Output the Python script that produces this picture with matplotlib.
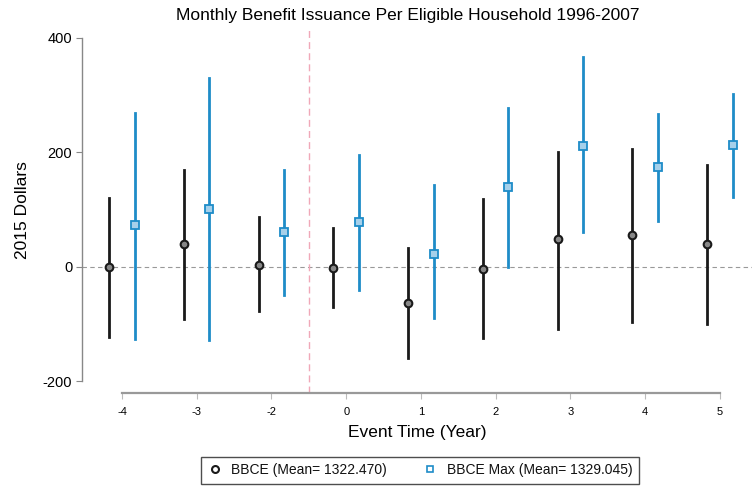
import matplotlib.pyplot as plt
from matplotlib.lines import Line2D

plt.rcParams['font.family'] = ['Liberation Sans', 'DejaVu Sans']

# event time (year -1 is the omitted reference period)
event_years = ['-4', '-3', '-2', '0', '1', '2', '3', '4', '5']

# BBCE coefficients and 95% CI bounds (2015 dollars)
bbce_coef = [0, 40, 3, -2, -64, -4, 48, 56, 40]
bbce_lo = [-122, -92, -77, -70, -160, -125, -108, -96, -100]
bbce_hi = [120, 169, 86, 68, 32, 118, 201, 206, 178]

# BBCE Max coefficients and 95% CI bounds
bmax_coef = [73, 101, 61, 78, 22, 139, 211, 175, 213]
bmax_lo = [-126, -128, -49, -41, -90, 0, 60, 80, 122]
bmax_hi = [268, 329, 169, 195, 143, 277, 366, 267, 302]

BLUE = '#1e8cc8'
pos = list(range(len(event_years)))
off = 0.17

fig = plt.figure(figsize=(7.56, 4.87), dpi=100)
ax = fig.add_axes([82 / 756, 94 / 487, 670 / 756, 365 / 487])

ax.axhline(0, color='#999999', lw=0.8, ls=(0, (4, 3)), zorder=1)
ax.axvline(2.5, color='#f0a8b8', lw=1.0, ls=(0, (5, 3)), zorder=1)

for i in pos:
    ax.plot([i - off, i - off], [bbce_lo[i], bbce_hi[i]], color='#1a1a1a', lw=2.0, zorder=2)
    ax.plot([i + off, i + off], [bmax_lo[i], bmax_hi[i]], color=BLUE, lw=2.0, zorder=2)

ax.plot([p - off for p in pos], bbce_coef, 'o', ms=5.5, mfc='#888888', mec='#1a1a1a',
        mew=1.5, ls='none', zorder=3)
ax.plot([p + off for p in pos], bmax_coef, 's', ms=5.5, mfc='#a6d0ea', mec=BLUE,
        mew=1.3, ls='none', zorder=3)

ax.set_xlim(-0.535, 8.43)
ax.set_ylim(-220.6, 417)

ax.set_yticks([-200, 0, 200, 400])
ax.set_yticklabels(['-200', '0', '200', '400'], fontsize=10.5)
ax.set_xticks(pos)
ax.set_xticklabels(event_years, fontsize=8)

for s in ['top', 'right']:
    ax.spines[s].set_visible(False)
ax.spines['left'].set_bounds(-200, 400)
ax.spines['left'].set_color('#888888')
ax.spines['left'].set_linewidth(1.0)
ax.spines['bottom'].set_bounds(0, 8)
ax.spines['bottom'].set_color('#999999')
ax.spines['bottom'].set_linewidth(1.6)
ax.tick_params(axis='y', length=4, color='#888888', pad=3)
ax.tick_params(axis='x', length=4, color='#bbbbbb', pad=6)

ax.set_ylabel('2015 Dollars', fontsize=12.5, labelpad=9)
ax.set_xlabel('Event Time (Year)', fontsize=12.5, labelpad=6)
fig.text(0.539, 0.968, 'Monthly Benefit Issuance Per Eligible Household 1996-2007',
         ha='center', va='center', fontsize=12.5)

handles = [
    Line2D([], [], marker='o', ls='none', ms=5, mfc='white', mec='#1a1a1a', mew=1.5),
    Line2D([], [], marker='s', ls='none', ms=5, mfc='white', mec=BLUE, mew=1.2),
]
labels = ['BBCE (Mean= 1322.470)', 'BBCE Max (Mean= 1329.045)']
leg = fig.legend(handles, labels, loc='upper center', bbox_to_anchor=(420 / 756, 1 - 457 / 487),
                 ncol=2, fontsize=10, frameon=True, fancybox=False, edgecolor='#222222',
                 handlelength=1.0, handletextpad=0.7, columnspacing=2.6, borderpad=0.45,
                 borderaxespad=0)
leg.get_frame().set_linewidth(1.0)
for t in leg.get_texts():
    t.set_color('#111111')

fig.savefig('out.png', dpi=100)
